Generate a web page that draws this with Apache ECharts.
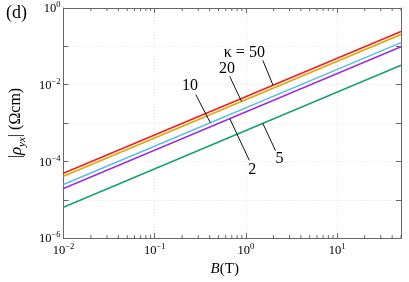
<!DOCTYPE html>
<html><head><meta charset="utf-8">
<script src="https://cdn.jsdelivr.net/npm/echarts@6/dist/echarts.min.js"></script>
<style>html,body{margin:0;padding:0;background:#fff}#c{width:409px;height:282px}</style>
</head><body><div id="c"></div>
<script>
// Data
const B = [0.01, 50];
const kappaLabels = ['κ = 50', '20', '10', '2', '5'];
const rhoRed    = [4.9e-5, 0.245];
const rhoOrange = [4.1e-5, 0.205];
const rhoBlue   = [2.5e-5, 0.125];
const rhoPurple = [1.96e-5, 0.098];
const rhoGreen  = [6.4e-6, 0.032];
const xTickDecades = [0.01, 0.1, 1, 10];
const yTickDecades = [1e-6, 1e-5, 1e-4, 1e-3, 1e-2, 1e-1, 1];

const FONT = '"Liberation Serif", "DejaVu Serif", serif';
const AX = '#666';
const colors = ['#e8231f', '#eea000', '#5bbcec', '#9a2fdc', '#17a079'];
const seriesVals = [rhoRed, rhoOrange, rhoBlue, rhoPurple, rhoGreen];

// annotation placements in data coordinates: text pos, leader start, leader end
const ann = [
  {t:[0.96, 0.068],  a:[1.53, 0.0432], b:[1.98, 0.0097]},
  {t:[0.62, 0.0258], a:[0.665, 0.0163], b:[0.894, 0.00366]},
  {t:[0.243, 0.0092], a:[0.282, 0.0055], b:[0.407, 0.00102]},
  {t:[1.17, 6.0e-5], a:[0.665, 1.3e-3], b:[1.087, 1.07e-4]},
  {t:[2.33, 1.2e-4], a:[1.53, 9.8e-4], b:[2.11, 1.9e-4]}
];

function supFmt(v){
  const e = Math.log10(v);
  const r = Math.round(e);
  if (Math.abs(e - r) > 1e-6) return '';
  return '{b|10}{s|' + (r < 0 ? '−' + (-r) : r) + '}';
}
const rich = {
  b:{fontFamily:FONT, fontSize:12.5, color:'#000', lineHeight:15, verticalAlign:'bottom'},
  s:{fontFamily:FONT, fontSize:8.5, color:'#000', lineHeight:15, verticalAlign:'top'}
};

// minor ticks (2..9 per decade) on x
const minors = [];
xTickDecades.forEach(d => { for (let k = 2; k <= 9; k++){ const v = d*k; if (v <= B[1]) minors.push([v, 1e-6]); } });

function axisBase(extra){
  return Object.assign({
    type:'log', logBase:10,
    axisLine:{show:true, lineStyle:{color:AX, width:1}},
    axisTick:{show:true, inside:true, length:5, lineStyle:{color:AX}},
    splitLine:{show:false},
    minorTick:{show:false}, minorSplitLine:{show:false}
  }, extra);
}

const series = seriesVals.map((vals, i) => ({
  type:'line', xAxisIndex:0, yAxisIndex:0,
  data: B.map((b, j) => [b, vals[j]]),
  showSymbol:false, symbol:'none',
  lineStyle:{color:colors[i], width:1.6},
  itemStyle:{color:colors[i]},
  silent:true, animation:false, z:3
}));

series.push({
  type:'line', xAxisIndex:0, yAxisIndex:0, data:[], silent:true, animation:false, z:4,
  markLine:{
    silent:true, symbol:['none','none'], animation:false,
    lineStyle:{color:'#111', width:1, type:'solid'},
    label:{show:false},
    data: ann.map(o => [{coord:o.a}, {coord:o.b}])
  },
  markPoint:{
    silent:true, symbol:'circle', symbolSize:0, animation:false,
    label:{show:true, position:'inside', fontFamily:FONT, fontSize:16, color:'#000',
      formatter: p => p.name},
    data: ann.map((o, i) => ({name:kappaLabels[i], coord:o.t}))
  }
});

series.push({
  type:'custom', xAxisIndex:0, yAxisIndex:0, data:minors, silent:true, animation:false, z:5,
  encode:{x:0, y:1}, clip:false,
  renderItem:(params, api) => {
    const v = api.value(0);
    const pb = api.coord([v, 1e-6]);
    const pt = api.coord([v, 1]);
    const st = {stroke:AX, lineWidth:1};
    return {type:'group', children:[
      {type:'line', shape:{x1:pb[0], y1:pb[1], x2:pb[0], y2:pb[1]-3}, style:st},
      {type:'line', shape:{x1:pt[0], y1:pt[1], x2:pt[0], y2:pt[1]+3}, style:st}
    ]};
  }
});

const chart = echarts.init(document.getElementById('c'), null, {renderer:'canvas'});
chart.setOption({
  animation:false,
  backgroundColor:'#fff',
  title:{text:'(d)', left:1, top:-1, textStyle:{fontFamily:FONT, fontSize:18, fontWeight:'normal', color:'#000'}},
  grid:{left:52, right:8, top:8, bottom:32, containLabel:false},
  xAxis:[
    axisBase({position:'bottom', min:B[0], max:B[1], interval:1,
      splitLine:{show:true, lineStyle:{color:'#e4e4e4', type:[1,2], width:1}},
      axisLabel:{show:true, formatter:supFmt, rich:rich, margin:4},
      name:'{i|B}(T)', nameLocation:'middle', nameGap:13,
      nameTextStyle:{fontFamily:FONT, fontSize:15, color:'#000', padding:[0,15,0,0],
        rich:{i:{fontFamily:FONT, fontSize:15, fontStyle:'italic', color:'#000'}}}
    }),
    axisBase({position:'top', min:B[0], max:B[1], interval:1, axisLabel:{show:false}})
  ],
  yAxis:[
    axisBase({position:'left', min:yTickDecades[0], max:yTickDecades[yTickDecades.length-1], interval:1,
      splitLine:{show:true, lineStyle:{color:'#e4e4e4', type:[1,2], width:1}},
      axisLabel:{show:true, margin:3, formatter: v => {
        const r = Math.round(Math.log10(v));
        return (r % 2 === 0) ? supFmt(v) : '';
      }, rich:rich},
      name:'|{i|ρ}{sub|yx}| (Ωcm)', nameLocation:'middle', nameRotate:90, nameGap:30,
      nameTextStyle:{fontFamily:FONT, fontSize:16, color:'#000',
        rich:{
          i:{fontFamily:FONT, fontSize:17, fontStyle:'italic', color:'#000', lineHeight:18, verticalAlign:'bottom'},
          sub:{fontFamily:FONT, fontSize:11, fontStyle:'italic', color:'#000', lineHeight:11, verticalAlign:'bottom', padding:[0,0,-3,0]}
        }}
    }),
    axisBase({position:'right', min:yTickDecades[0], max:yTickDecades[yTickDecades.length-1], interval:1, axisLabel:{show:false}})
  ],
  series: series
});
</script>
</body></html>
